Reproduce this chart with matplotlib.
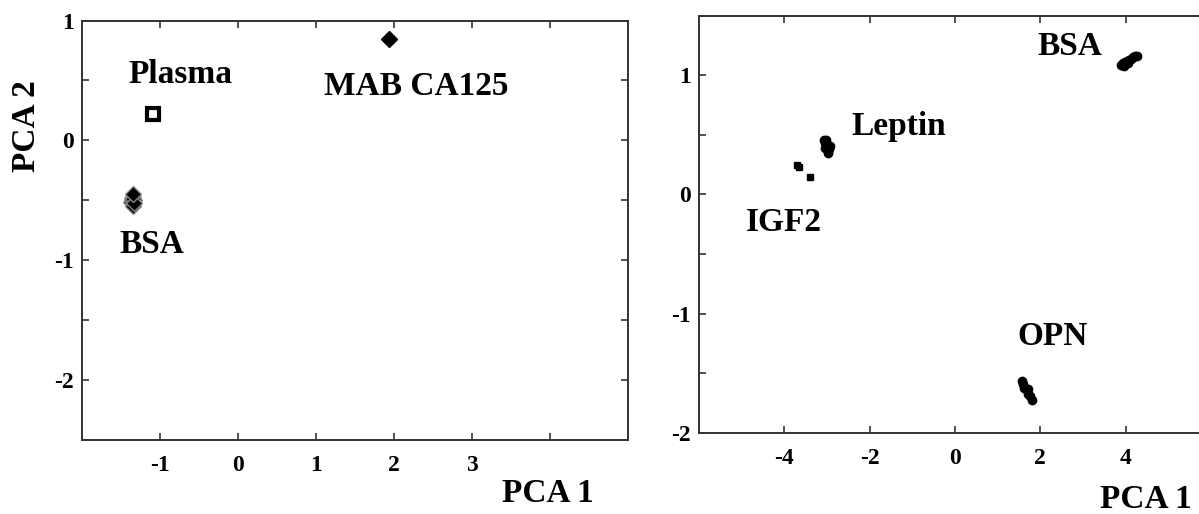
import numpy as np
import matplotlib.pyplot as plt

plt.rcParams['font.family'] = ['Liberation Serif', 'DejaVu Serif']
plt.rcParams['font.weight'] = 'bold'
plt.rcParams['axes.unicode_minus'] = False

# left panel: plasma / MAB CA125 / BSA
mab_x = [1.93]
mab_y = [0.85]
plasma_x = [-1.09]
plasma_y = [0.22]
bsa_l_x = [-1.37, -1.36, -1.34, -1.33, -1.35, -1.34, -1.36, -1.34, -1.33, -1.35]
bsa_l_y = [-0.51, -0.48, -0.47, -0.50, -0.53, -0.55, -0.50, -0.49, -0.52, -0.45]

# right panel: BSA / Leptin / IGF2 / OPN
bsa_r_x = [3.88, 3.93, 3.98, 4.03, 4.08, 4.13, 4.18, 4.23, 4.27, 3.95, 4.05]
bsa_r_y = [1.09, 1.10, 1.11, 1.12, 1.13, 1.14, 1.15, 1.16, 1.16, 1.08, 1.10]
lep_x = [-3.08, -3.04, -3.00, -2.96, -2.93, -3.02, -2.98, -3.05]
lep_y = [0.46, 0.43, 0.40, 0.38, 0.41, 0.46, 0.35, 0.39]
igf_x = [-3.70, -3.66, -3.40]
igf_y = [0.25, 0.23, 0.145]
opn_x = [1.56, 1.60, 1.64, 1.68, 1.72, 1.76, 1.80, 1.62, 1.70]
opn_y = [-1.56, -1.59, -1.62, -1.64, -1.67, -1.69, -1.72, -1.62, -1.63]

fig = plt.figure(figsize=(11.99, 5.14), dpi=100)
ax1 = fig.add_axes([0.0684, 0.144, 0.4554, 0.816])
ax2 = fig.add_axes([0.583, 0.1576, 0.427, 0.812])

for ax in (ax1, ax2):
    for sp in ax.spines.values():
        sp.set_color('#333333')
        sp.set_linewidth(1.4)
    ax.tick_params(direction='in', length=5, width=1.2, color='#333333',
                   top=True, right=True, labelsize=17)
    ax.tick_params(axis='x', pad=11)
    ax.tick_params(axis='y', pad=6)

# left
ax1.plot(mab_x, mab_y, 'D', color='black', ms=8)
ax1.plot(plasma_x, plasma_y, 's', mfc='white', mec='black', mew=3, ms=9)
ax1.plot(bsa_l_x, bsa_l_y, 'D', mfc='black', mec='#888888', mew=1, ms=8)
ax1.set_xlim(-2, 5)
ax1.set_ylim(-2.5, 1.0)
ax1.set_xticks([-1, 0, 1, 2, 3, 4])
ax1.set_xticklabels(['-1', '0', '1', '2', '3', ''])
ax1.set_yticks(np.arange(-2.5, 1.01, 0.5))
ax1.set_yticklabels(['', '-2', '', '-1', '', '0', '', '1'])
ax1.text(-1.41, 0.48, 'Plasma', fontsize=24)
ax1.text(1.10, 0.378, 'MAB CA125', fontsize=24)
ax1.text(-1.52, -0.94, 'BSA', fontsize=24)

# right
ax2.plot(bsa_r_x, bsa_r_y, 'o', color='black', ms=6)
ax2.plot(lep_x, lep_y, 'o', color='black', ms=6)
ax2.plot(igf_x, igf_y, 's', color='black', ms=5)
ax2.plot(opn_x, opn_y, 'o', color='black', ms=6)
ax2.set_xlim(-6, 6)
ax2.set_ylim(-2, 1.5)
ax2.set_xticks([-4, -2, 0, 2, 4])
ax2.set_yticks(np.arange(-2, 1.51, 0.5))
ax2.set_yticklabels(['-2', '', '-1', '', '0', '', '1', ''])
ax2.text(1.94, 1.17, 'BSA', fontsize=24)
ax2.text(-2.44, 0.50, 'Leptin', fontsize=24)
ax2.text(-4.91, -0.31, 'IGF2', fontsize=24)
ax2.text(1.47, -1.26, 'OPN', fontsize=24)

fig.text(0.4187, 0.0233, 'PCA 1', fontsize=24)
fig.text(0.9174, 0.0117, 'PCA 1', fontsize=24)
fig.text(0.0217, 0.755, 'PCA 2', fontsize=24, rotation=90, ha='center', va='center')

fig.savefig('out.png', dpi=100)
